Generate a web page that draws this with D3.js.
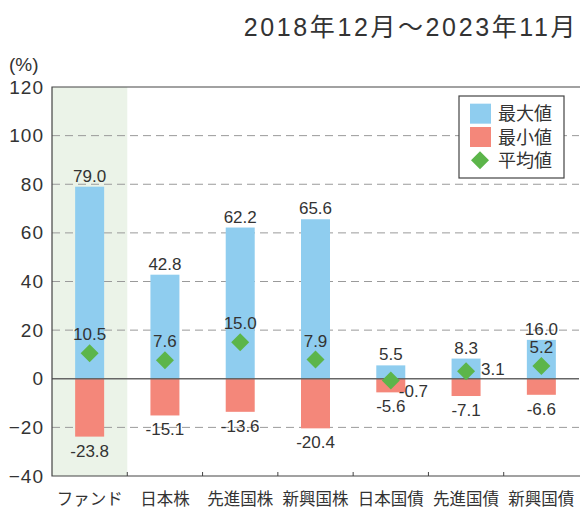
<!DOCTYPE html>
<html>
<head>
<meta charset="utf-8">
<script src="https://cdn.jsdelivr.net/npm/d3@7"></script>
<style>
  body { margin: 0; background: #fff; }
  svg text { font-family: "Liberation Sans", "Noto Sans CJK JP", sans-serif; fill: #333; }
</style>
</head>
<body>
<div id="chart"></div>
<script>
// data
const categories = ["ファンド", "日本株", "先進国株", "新興国株", "日本国債", "先進国債", "新興国債"];
const maxValues = [79.0, 42.8, 62.2, 65.6, 5.5, 8.3, 16.0];
const minValues = [-23.8, -15.1, -13.6, -20.4, -5.6, -7.1, -6.6];
const avgValues = [10.5, 7.6, 15.0, 7.9, -0.7, 3.1, 5.2];
const yTicks = [-40, -20, 0, 20, 40, 60, 80, 100, 120];
const legendItems = ["最大値", "最小値", "平均値"];
const title = "2018年12月～2023年11月";

const width = 580, height = 508;
const margin = { top: 87, right: 1, bottom: 32, left: 52 };
const innerW = width - margin.left - margin.right;
const innerH = height - margin.top - margin.bottom;

const colors = { max: "#8fcdef", min: "#f4877a", avg: "#5cb54a", band: "#ebf3e8" };

const svg = d3.select("#chart").append("svg")
  .attr("width", width)
  .attr("height", height);

svg.append("text")
  .attr("x", 578)
  .attr("y", 36)
  .attr("text-anchor", "end")
  .style("font-size", "25px")
  .style("letter-spacing", "2.6px")
  .text(title);

svg.append("text")
  .attr("x", 9)
  .attr("y", 71)
  .style("font-size", "19px")
  .text("(%)");

const g = svg.append("g")
  .attr("transform", `translate(${margin.left},${margin.top})`);

const x = d3.scaleBand()
  .domain(categories)
  .range([0, innerW]);

const y = d3.scaleLinear()
  .domain([-40, 120])
  .range([innerH, 0]);

// highlight for the fund column
g.append("rect")
  .attr("x", x(categories[0]))
  .attr("y", 0)
  .attr("width", x.bandwidth())
  .attr("height", innerH)
  .attr("fill", colors.band);

// dashed gridlines
g.selectAll(".grid")
  .data(yTicks.filter(d => d !== 0 && d !== -40 && d !== 120))
  .enter().append("line")
  .attr("class", "grid")
  .attr("x1", 0).attr("x2", innerW)
  .attr("y1", d => y(d)).attr("y2", d => y(d))
  .attr("stroke", "#9a9a9a")
  .attr("stroke-width", 1)
  .attr("stroke-dasharray", "8,5");

// y axis labels
const yAxis = d3.axisLeft(y).tickValues(yTicks).tickSize(0).tickPadding(8);
g.append("g").call(yAxis)
  .call(a => a.select(".domain").remove())
  .selectAll("text")
  .style("font-size", "19px")
  .style("letter-spacing", "1px")
  .style("fill", "#333");

// bars
const bw = 29;
const cx = d => x(d) + x.bandwidth() / 2;

g.selectAll(".bar-max")
  .data(categories)
  .enter().append("rect")
  .attr("class", "bar-max")
  .attr("x", d => cx(d) - bw / 2)
  .attr("y", (d, i) => y(maxValues[i]))
  .attr("width", bw)
  .attr("height", (d, i) => y(0) - y(maxValues[i]))
  .attr("fill", colors.max);

g.selectAll(".bar-min")
  .data(categories)
  .enter().append("rect")
  .attr("class", "bar-min")
  .attr("x", d => cx(d) - bw / 2)
  .attr("y", y(0))
  .attr("width", bw)
  .attr("height", (d, i) => y(minValues[i]) - y(0))
  .attr("fill", colors.min);

// zero line
g.append("line")
  .attr("x1", 0).attr("x2", innerW)
  .attr("y1", y(0)).attr("y2", y(0))
  .attr("stroke", "#666")
  .attr("stroke-width", 1.3);

// frame: top, left, bottom
g.append("path")
  .attr("d", `M${innerW + 1},0H0V${innerH}H${innerW + 1}`)
  .attr("fill", "none")
  .attr("stroke", "#444")
  .attr("stroke-width", 1.2);

// small ticks at category boundaries
g.selectAll(".xtick")
  .data(categories.slice(1))
  .enter().append("line")
  .attr("x1", d => x(d)).attr("x2", d => x(d))
  .attr("y1", innerH).attr("y2", innerH - 4)
  .attr("stroke", "#444");

// diamonds
const ds = 9;
g.selectAll(".avg")
  .data(categories)
  .enter().append("path")
  .attr("class", "avg")
  .attr("d", (d, i) => {
    const px = cx(d), py = y(avgValues[i]);
    return `M${px},${py - ds}L${px + ds},${py}L${px},${py + ds}L${px - ds},${py}Z`;
  })
  .attr("fill", colors.avg);

// value labels
const labelSize = "17px";
g.selectAll(".lbl-max")
  .data(categories)
  .enter().append("text")
  .attr("x", d => cx(d))
  .attr("y", (d, i) => y(maxValues[i]) - 5)
  .attr("text-anchor", "middle")
  .style("font-size", labelSize)
  .text((d, i) => maxValues[i].toFixed(1));

g.selectAll(".lbl-min")
  .data(categories)
  .enter().append("text")
  .attr("x", d => cx(d))
  .attr("y", (d, i) => y(minValues[i]) + 20)
  .attr("text-anchor", "middle")
  .style("font-size", labelSize)
  .text((d, i) => minValues[i].toFixed(1));

// avg label placement: above the diamond, except where it would collide
const avgPlace = ["top", "top", "top", "top", "below-right", "right", "top"];
g.selectAll(".lbl-avg")
  .data(categories)
  .enter().append("text")
  .attr("x", (d, i) => {
    if (avgPlace[i] === "right") return cx(d) + 15;
    if (avgPlace[i] === "below-right") return cx(d) + 8;
    return cx(d);
  })
  .attr("y", (d, i) => {
    const py = y(avgValues[i]);
    if (avgPlace[i] === "right") return py + 4;
    if (avgPlace[i] === "below-right") return py + 17;
    return py - 13;
  })
  .attr("text-anchor", (d, i) => avgPlace[i] === "top" ? "middle" : "start")
  .style("font-size", labelSize)
  .text((d, i) => avgValues[i].toFixed(1));

// category labels
g.selectAll(".cat")
  .data(categories)
  .enter().append("text")
  .attr("x", d => cx(d))
  .attr("y", innerH + 29)
  .attr("text-anchor", "middle")
  .style("font-size", "16.5px")
  .text(d => d);

// legend
const lg = g.append("g").attr("transform", `translate(${407},${9})`);
lg.append("rect")
  .attr("width", 105).attr("height", 82)
  .attr("fill", "#fff")
  .attr("stroke", "#444")
  .attr("stroke-width", 1.2);

const legendRow = d3.scaleBand().domain(legendItems).range([6, 76]);
legendItems.forEach((name, i) => {
  const cy = legendRow(name) + legendRow.bandwidth() / 2;
  if (i < 2) {
    lg.append("rect")
      .attr("x", 11).attr("y", cy - 10)
      .attr("width", 21).attr("height", 20)
      .attr("fill", i === 0 ? colors.max : colors.min);
  } else {
    lg.append("path")
      .attr("d", `M21,${cy - 9}L30,${cy}L21,${cy + 9}L12,${cy}Z`)
      .attr("fill", colors.avg);
  }
  lg.append("text")
    .attr("x", 39)
    .attr("y", cy + 6.5)
    .style("font-size", "18px")
    .text(name);
});
</script>
</body>
</html>
